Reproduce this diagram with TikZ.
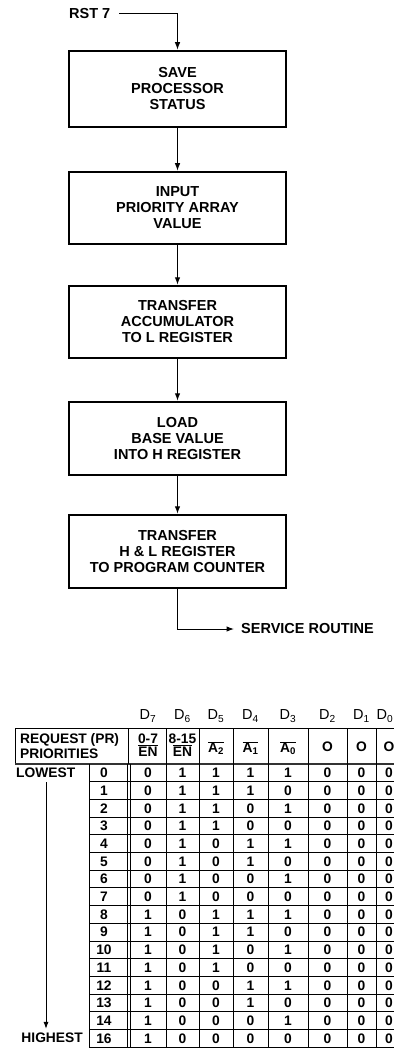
\documentclass[tikz,border=0pt]{standalone}
\usepackage{fontspec}
\setmainfont{Liberation Sans}
\usetikzlibrary{arrows.meta}
\begin{document}
\begin{tikzpicture}[x=1pt,y=-1pt,
  proc/.style={draw, line width=2.5pt, minimum width=217pt, inner sep=0pt, align=center,
    font=\fontsize{14.5}{16}\selectfont\bfseries},
  flow/.style={line width=1pt, -{Latex[length=7.5pt,width=5.5pt]}},
  lbl/.style={font=\fontsize{14.5}{16}\selectfont\bfseries, inner sep=0pt},
  cell/.style={font=\fontsize{13.8}{15}\selectfont\bfseries, inner sep=0pt},
  dlbl/.style={font=\fontsize{14.5}{15}\selectfont, inner sep=0pt},
  grid/.style={line width=0.9pt},
]
\useasboundingbox (0,0) rectangle (394,1051);
\clip (0,0) rectangle (394,1051);

% ---------- flowchart ----------
\node[proc, minimum height=76pt] (b1) at (177.5,89)    {SAVE\\PROCESSOR\\STATUS};
\node[proc, minimum height=72pt] (b2) at (177.5,208)   {INPUT\\PRIORITY ARRAY\\VALUE};
\node[proc, minimum height=72pt] (b3) at (177.5,322)   {TRANSFER\\ACCUMULATOR\\TO L REGISTER};
\node[proc, minimum height=73pt] (b4) at (177.5,438.5) {LOAD\\BASE VALUE\\INTO H REGISTER};
\node[proc, minimum height=73pt] (b5) at (177.5,551.5) {TRANSFER\\H \& L REGISTER\\TO PROGRAM COUNTER};

\node[lbl, anchor=west] (rst) at (69,14) {RST 7};
\coordinate (rstA) at (119,14);
\draw[flow] (rstA) -| (b1.north);
\draw[flow] (b1) -- (b2);
\draw[flow] (b2) -- (b3);
\draw[flow] (b3) -- (b4);
\draw[flow] (b4) -- (b5);
\node[lbl, anchor=west] (svc) at (241,629) {SERVICE ROUTINE};
\draw[flow] (b5.south) |- ([xshift=-7pt]svc.west);

% ---------- table ----------
\draw[grid] (15,728) -- (394,728);
\draw[grid] (15,728) -- (15,764);
\draw[line width=1.6pt, black!80] (15,764) -- (394,764);
\draw[grid] (128.5,728) -- (128.5,764);
\foreach \x in {166,199,233,268,308,347,376}{
  \draw[grid] (\x,728) -- (\x,1047.2);
}
\draw[grid] (89,764) -- (89,1047.2);
\draw[grid] (127,764) -- (127,1047.2);
\draw[grid] (130.5,764) -- (130.5,1047.2);
\foreach \k in {1,...,16}{
  \pgfmathsetmacro\yy{764+17.7*\k}
  \draw[grid] (89,\yy) -- (394,\yy);
}

% column headings
\foreach \lab/\cx in {7/148,6/182.5,5/216,4/250.5,3/288,2/327.5,1/361.5,0/385}{
  \node[dlbl] (d\lab) at (\cx,716) {D\textsubscript{\lab}};
}
\node[cell, anchor=west, align=left] (req) at (20,746) {REQUEST (PR)\\PRIORITIES};
\node[cell, align=center] (h7) at (148,745) {0-7\\[-2pt]$\overline{\hbox{EN}}$};
\node[cell, align=center] (h6) at (182.5,745) {8-15\\[-2pt]$\overline{\hbox{EN}}$};
\node[cell] (h5) at (216,748) {$\overline{\hbox{A\textsubscript{2}}}$};
\node[cell] (h4) at (250.5,748) {$\overline{\hbox{A\textsubscript{1}}}$};
\node[cell] (h3) at (288,748) {$\overline{\hbox{A\textsubscript{0}}}$};
\node[cell] (h2) at (327.5,747) {O};
\node[cell] (h1) at (361.5,747) {O};
\node[cell] (h0) at (389,747) {O};

% rows
\foreach \n [count=\i from 0] in {0,1,2,3,4,5,6,7,8,9,10,11,12,13,14,16}{
  \pgfmathsetmacro\cy{764+17.7*(\i+0.5)}
  \pgfmathtruncatemacro\m{mod(\i,8)}
  \pgfmathtruncatemacro\dseven{\i>7 ? 1 : 0}
  \pgfmathtruncatemacro\dsix{\i>7 ? 0 : 1}
  \pgfmathtruncatemacro\dfive{\m<4 ? 1 : 0}
  \pgfmathtruncatemacro\dfour{mod(\m,4)<2 ? 1 : 0}
  \pgfmathtruncatemacro\dthree{mod(\m,2)==0 ? 1 : 0}
  \node[cell] (n\i) at (104,\cy) {\n};
  \node[cell] (r\i-7) at (148,\cy) {\dseven};
  \node[cell] (r\i-6) at (182.5,\cy) {\dsix};
  \node[cell] (r\i-5) at (216,\cy) {\dfive};
  \node[cell] (r\i-4) at (250.5,\cy) {\dfour};
  \node[cell] (r\i-3) at (288,\cy) {\dthree};
  \node[cell] (r\i-2) at (327.5,\cy) {0};
  \node[cell] (r\i-1) at (361.5,\cy) {0};
  \node[cell] (r\i-0) at (389,\cy) {0};
}

\node[cell, anchor=west] (low) at (16,773) {LOWEST};
\node[cell, anchor=east] (high) at (83,1038) {HIGHEST};
\coordinate (arrS) at (46,782);
\draw[line width=0.9pt, -{Latex[length=7pt,width=5pt]}, shorten >=4pt] (arrS) -- (arrS |- high.north);
\end{tikzpicture}
\end{document}
